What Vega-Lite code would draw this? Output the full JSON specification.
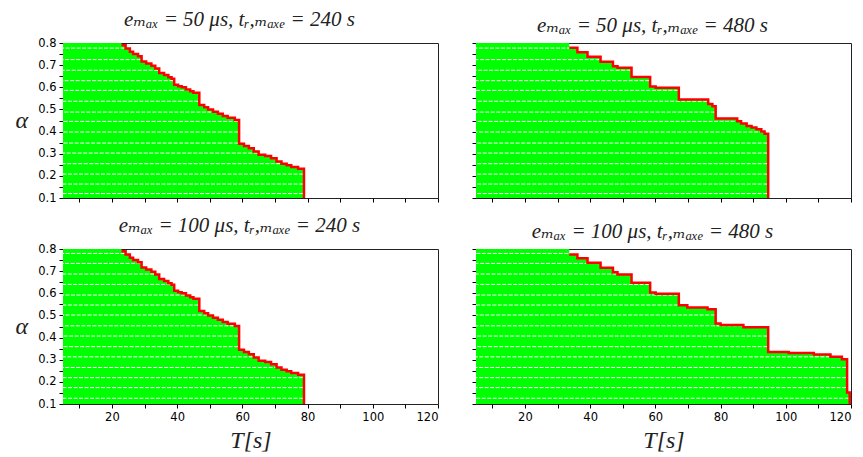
{
  "$schema": "https://vega.github.io/schema/vega-lite/v6.json",
  "background": "white",
  "padding": {"left": 14, "top": 8, "right": 5, "bottom": 2},
  "config": {
    "view": {"stroke": "#222", "strokeWidth": 1},
    "axis": {"grid": false, "domain": false, "tickColor": "#000", "tickSize": 4, "tickCount": 100, "labelColor": "#000", "labelFont": "DejaVu Sans", "labelFontSize": 11.5, "labelPadding": 3, "labelOverlap": false, "labelBound": false},
    "title": {"font": "'Liberation Serif', 'DejaVu Serif', serif", "fontSize": 21, "fontStyle": "italic", "fontWeight": "normal", "color": "#222", "anchor": "middle", "frame": "group", "dx": -11, "offset": 7}
  },
  "datasets": {
    "b1": [{"T":5,"a":0.8},{"T":22.9,"a":0.79},{"T":24.2,"a":0.775},{"T":25.5,"a":0.76},{"T":26.5,"a":0.75},{"T":28,"a":0.74},{"T":29.1,"a":0.716},{"T":30.5,"a":0.707},{"T":32.1,"a":0.697},{"T":33.3,"a":0.685},{"T":34.5,"a":0.665},{"T":36,"a":0.655},{"T":37.3,"a":0.645},{"T":38.3,"a":0.638},{"T":39.1,"a":0.612},{"T":40.3,"a":0.605},{"T":41.4,"a":0.6},{"T":42.7,"a":0.59},{"T":44,"a":0.582},{"T":45,"a":0.575},{"T":46.8,"a":0.52},{"T":48.3,"a":0.51},{"T":49.5,"a":0.5},{"T":51,"a":0.49},{"T":52.5,"a":0.48},{"T":54,"a":0.47},{"T":55.5,"a":0.462},{"T":57.7,"a":0.452},{"T":59,"a":0.345},{"T":60.5,"a":0.335},{"T":62,"a":0.325},{"T":63.5,"a":0.31},{"T":65,"a":0.295},{"T":67,"a":0.29},{"T":68.8,"a":0.28},{"T":70.5,"a":0.265},{"T":72,"a":0.255},{"T":73.6,"a":0.248},{"T":75,"a":0.24},{"T":77.1,"a":0.232},{"T":78.9,"a":0.1}],
    "b2": [{"T":5,"a":0.8},{"T":33.6,"a":0.778},{"T":36.1,"a":0.758},{"T":39.2,"a":0.738},{"T":43.2,"a":0.715},{"T":47,"a":0.695},{"T":48.4,"a":0.688},{"T":52.7,"a":0.647},{"T":58.4,"a":0.603},{"T":60.1,"a":0.598},{"T":67.2,"a":0.545},{"T":76.2,"a":0.525},{"T":77.5,"a":0.514},{"T":78.5,"a":0.459},{"T":85.1,"a":0.447},{"T":86.3,"a":0.437},{"T":88,"a":0.425},{"T":89.5,"a":0.418},{"T":91,"a":0.41},{"T":92.5,"a":0.4},{"T":93.5,"a":0.39},{"T":94.6,"a":0.1}],
    "b4": [{"T":5,"a":0.8},{"T":33.6,"a":0.775},{"T":36.1,"a":0.758},{"T":39.2,"a":0.738},{"T":43.2,"a":0.715},{"T":47,"a":0.695},{"T":48.4,"a":0.685},{"T":52.7,"a":0.648},{"T":58.4,"a":0.603},{"T":60.1,"a":0.598},{"T":67.2,"a":0.546},{"T":69.8,"a":0.536},{"T":76,"a":0.528},{"T":78.5,"a":0.464},{"T":80,"a":0.457},{"T":87,"a":0.447},{"T":94.6,"a":0.335},{"T":100.9,"a":0.33},{"T":108.6,"a":0.323},{"T":113.7,"a":0.313},{"T":117.2,"a":0.302},{"T":118.8,"a":0.152},{"T":119.6,"a":0.1}],
    "l1": [{"a":0.777,"t":23.9},{"a":0.725,"t":28.8},{"a":0.677,"t":34.2},{"a":0.63,"t":38.8},{"a":0.586,"t":43.7},{"a":0.537,"t":46.5},{"a":0.488,"t":52.2},{"a":0.446,"t":58.7},{"a":0.398,"t":58.7},{"a":0.348,"t":58.7},{"a":0.303,"t":64.7},{"a":0.255,"t":73.3},{"a":0.208,"t":78.6},{"a":0.163,"t":78.6},{"a":0.12,"t":78.6}],
    "l2": [{"a":0.777,"t":35.8},{"a":0.725,"t":42.9},{"a":0.677,"t":52.4},{"a":0.63,"t":58.1},{"a":0.586,"t":66.9},{"a":0.537,"t":75.9},{"a":0.488,"t":78.2},{"a":0.446,"t":86.0},{"a":0.398,"t":93.2},{"a":0.348,"t":94.3},{"a":0.303,"t":94.3},{"a":0.255,"t":94.3},{"a":0.208,"t":94.3},{"a":0.163,"t":94.3},{"a":0.12,"t":94.3}],
    "l3": [{"a":0.78,"t":23.9},{"a":0.735,"t":28.8},{"a":0.687,"t":33.0},{"a":0.64,"t":38.0},{"a":0.592,"t":42.4},{"a":0.547,"t":46.5},{"a":0.502,"t":49.2},{"a":0.453,"t":57.4},{"a":0.407,"t":58.7},{"a":0.359,"t":58.7},{"a":0.313,"t":63.2},{"a":0.265,"t":71.0},{"a":0.219,"t":78.6},{"a":0.174,"t":78.6},{"a":0.126,"t":78.6}],
    "l4": [{"a":0.78,"t":33.3},{"a":0.735,"t":42.9},{"a":0.687,"t":48.1},{"a":0.64,"t":58.1},{"a":0.592,"t":66.9},{"a":0.547,"t":66.9},{"a":0.502,"t":78.2},{"a":0.453,"t":86.7},{"a":0.407,"t":94.3},{"a":0.359,"t":94.3},{"a":0.313,"t":116.9},{"a":0.265,"t":118.5},{"a":0.219,"t":118.5},{"a":0.174,"t":118.5},{"a":0.126,"t":119.3}]
  },
  "vconcat": [
    {
      "hconcat": [
        {
          "width": 375, "height": 155,
          "title": {"text": "eₘₐₓ  =  50 μs,  tᵣ,ₘₐₓₑ  =  240 s"},
          "layer": [
            {"data": {"name": "b1"}, "mark": {"type": "area", "interpolate": "step-after", "color": "#00ff00"},
             "encoding": {
               "x": {"field": "T", "type": "quantitative", "scale": {"domain": [5, 120], "nice": false, "zero": false},
                     "axis": {"values": [10,20,30,40,50,60,70,80,90,100,110,120], "tickCount": 100, "labels": false, "title": null}},
               "y": {"field": "a", "type": "quantitative", "scale": {"domain": [0.1, 0.8], "nice": false, "zero": false},
                     "axis": {"values": [0.1,0.15,0.2,0.25,0.3,0.35,0.4,0.45,0.5,0.55,0.6,0.65,0.7,0.75,0.8], "tickCount": 100, "labelExpr": "round(datum.value*100) % 10 === 0 ? format(datum.value, '.1f') : ''", "title": "α", "titleAngle": 0, "titleAlign": "right", "titleBaseline": "middle", "titleFont": "'Liberation Serif', serif", "titleFontStyle": "italic", "titleFontWeight": "normal", "titleFontSize": 24, "titleColor": "#222", "titlePadding": 10}},
               "y2": {"datum": 0.1}}},
            {"data": {"name": "l1"}, "mark": {"type": "rule", "color": "white", "strokeDash": [4, 1.5], "strokeWidth": 1},
             "encoding": {"x": {"field": "t", "type": "quantitative"}, "x2": {"datum": 5}, "y": {"field": "a", "type": "quantitative"}}},
            {"data": {"name": "b1"}, "transform": [{"filter": "datum.T > 5"}], "mark": {"type": "line", "interpolate": "step-after", "color": "#ff0000", "strokeWidth": 2.5},
             "encoding": {"x": {"field": "T", "type": "quantitative"}, "y": {"field": "a", "type": "quantitative"}}}
          ]
        },
        {
          "width": 375, "height": 155,
          "title": {"text": "eₘₐₓ  =  50 μs,  tᵣ,ₘₐₓₑ  =  480 s"},
          "layer": [
            {"data": {"name": "b2"}, "mark": {"type": "area", "interpolate": "step-after", "color": "#00ff00"},
             "encoding": {
               "x": {"field": "T", "type": "quantitative", "scale": {"domain": [5, 120], "nice": false, "zero": false},
                     "axis": {"values": [10,20,30,40,50,60,70,80,90,100,110,120], "tickCount": 100, "labels": false, "title": null}},
               "y": {"field": "a", "type": "quantitative", "scale": {"domain": [0.1, 0.8], "nice": false, "zero": false},
                     "axis": {"values": [0.1,0.15,0.2,0.25,0.3,0.35,0.4,0.45,0.5,0.55,0.6,0.65,0.7,0.75,0.8], "tickCount": 100, "labels": false, "title": null}},
               "y2": {"datum": 0.1}}},
            {"data": {"name": "l2"}, "mark": {"type": "rule", "color": "white", "strokeDash": [4, 1.5], "strokeWidth": 1},
             "encoding": {"x": {"field": "t", "type": "quantitative"}, "x2": {"datum": 5}, "y": {"field": "a", "type": "quantitative"}}},
            {"data": {"name": "b2"}, "transform": [{"filter": "datum.T > 5"}], "mark": {"type": "line", "interpolate": "step-after", "color": "#ff0000", "strokeWidth": 2.5},
             "encoding": {"x": {"field": "T", "type": "quantitative"}, "y": {"field": "a", "type": "quantitative"}}}
          ]
        }
      ],
      "spacing": 32
    },
    {
      "hconcat": [
        {
          "width": 375, "height": 155,
          "title": {"text": "eₘₐₓ  =  100 μs,  tᵣ,ₘₐₓₑ  =  240 s"},
          "layer": [
            {"data": {"name": "b1"}, "mark": {"type": "area", "interpolate": "step-after", "color": "#00ff00"},
             "encoding": {
               "x": {"field": "T", "type": "quantitative", "scale": {"domain": [5, 120], "nice": false, "zero": false},
                     "axis": {"values": [10,20,30,40,50,60,70,80,90,100,110,120], "tickCount": 100, "labelExpr": "datum.value % 20 === 0 ? datum.label : ''", "labelPadding": 3, "title": "T[s]", "titleFont": "'Liberation Serif', serif", "titleFontStyle": "italic", "titleFontWeight": "normal", "titleFontSize": 24, "titleColor": "#222", "titlePadding": 6}},
               "y": {"field": "a", "type": "quantitative", "scale": {"domain": [0.1, 0.8], "nice": false, "zero": false},
                     "axis": {"values": [0.1,0.15,0.2,0.25,0.3,0.35,0.4,0.45,0.5,0.55,0.6,0.65,0.7,0.75,0.8], "tickCount": 100, "labelExpr": "round(datum.value*100) % 10 === 0 ? format(datum.value, '.1f') : ''", "title": "α", "titleAngle": 0, "titleAlign": "right", "titleBaseline": "middle", "titleFont": "'Liberation Serif', serif", "titleFontStyle": "italic", "titleFontWeight": "normal", "titleFontSize": 24, "titleColor": "#222", "titlePadding": 10}},
               "y2": {"datum": 0.1}}},
            {"data": {"name": "l3"}, "mark": {"type": "rule", "color": "white", "strokeDash": [4, 1.5], "strokeWidth": 1},
             "encoding": {"x": {"field": "t", "type": "quantitative"}, "x2": {"datum": 5}, "y": {"field": "a", "type": "quantitative"}}},
            {"data": {"name": "b1"}, "transform": [{"filter": "datum.T > 5"}], "mark": {"type": "line", "interpolate": "step-after", "color": "#ff0000", "strokeWidth": 2.5},
             "encoding": {"x": {"field": "T", "type": "quantitative"}, "y": {"field": "a", "type": "quantitative"}}}
          ]
        },
        {
          "width": 375, "height": 155,
          "title": {"text": "eₘₐₓ  =  100 μs,  tᵣ,ₘₐₓₑ  =  480 s"},
          "layer": [
            {"data": {"name": "b4"}, "mark": {"type": "area", "interpolate": "step-after", "color": "#00ff00"},
             "encoding": {
               "x": {"field": "T", "type": "quantitative", "scale": {"domain": [5, 120], "nice": false, "zero": false},
                     "axis": {"values": [10,20,30,40,50,60,70,80,90,100,110,120], "tickCount": 100, "labelExpr": "datum.value % 20 === 0 ? datum.label : ''", "labelPadding": 3, "title": "T[s]", "titleFont": "'Liberation Serif', serif", "titleFontStyle": "italic", "titleFontWeight": "normal", "titleFontSize": 24, "titleColor": "#222", "titlePadding": 6}},
               "y": {"field": "a", "type": "quantitative", "scale": {"domain": [0.1, 0.8], "nice": false, "zero": false},
                     "axis": {"values": [0.1,0.15,0.2,0.25,0.3,0.35,0.4,0.45,0.5,0.55,0.6,0.65,0.7,0.75,0.8], "tickCount": 100, "labels": false, "title": null}},
               "y2": {"datum": 0.1}}},
            {"data": {"name": "l4"}, "mark": {"type": "rule", "color": "white", "strokeDash": [4, 1.5], "strokeWidth": 1},
             "encoding": {"x": {"field": "t", "type": "quantitative"}, "x2": {"datum": 5}, "y": {"field": "a", "type": "quantitative"}}},
            {"data": {"name": "b4"}, "transform": [{"filter": "datum.T > 5"}], "mark": {"type": "line", "interpolate": "step-after", "color": "#ff0000", "strokeWidth": 2.5},
             "encoding": {"x": {"field": "T", "type": "quantitative"}, "y": {"field": "a", "type": "quantitative"}}}
          ]
        }
      ],
      "spacing": 32
    }
  ],
  "spacing": 10
}
